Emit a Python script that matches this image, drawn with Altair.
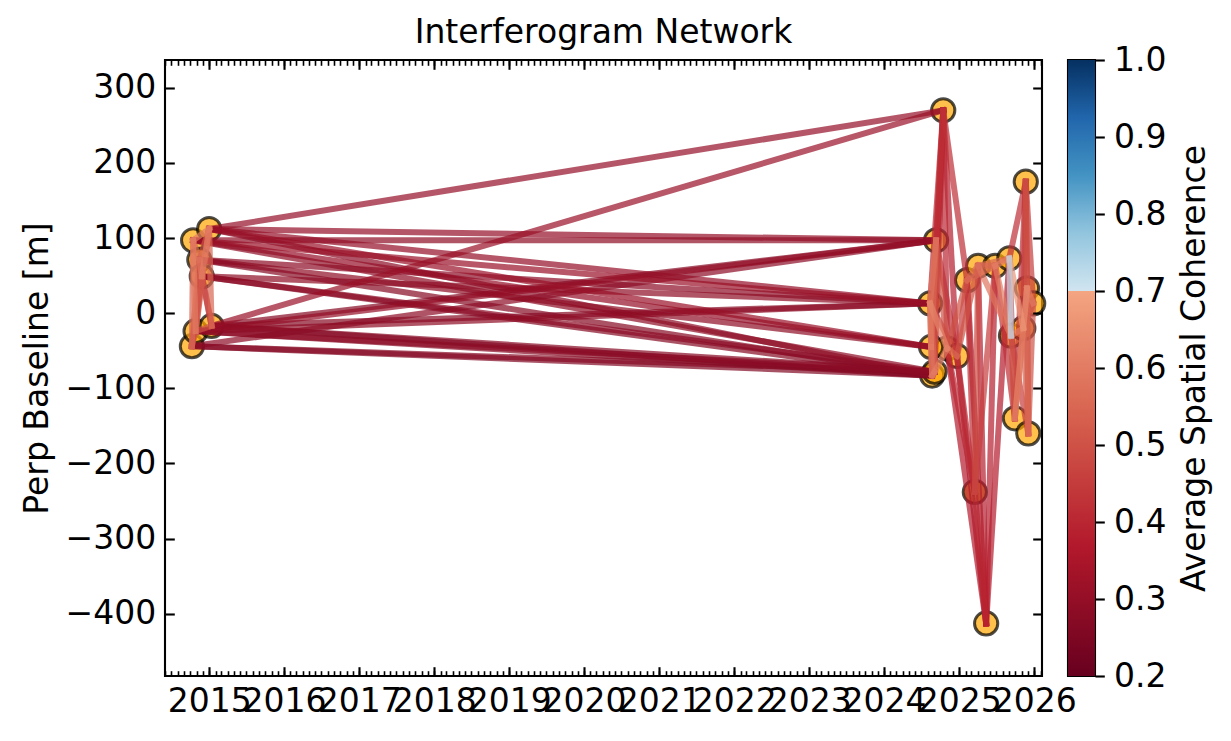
import altair as alt
import pandas as pd

# ---------------- data ----------------
acq_dates = [
    "2014-10-09", "2014-10-15", "2014-10-27", "2014-11-14", "2014-11-26",
    "2015-01-01", "2015-01-13",
    "2024-08-12", "2024-08-22", "2024-09-03", "2024-09-10", "2024-10-15",
    "2024-11-03", "2024-12-21", "2025-02-08", "2025-03-18", "2025-04-03",
    "2025-05-12", "2025-06-25", "2025-09-02", "2025-09-10", "2025-09-29",
    "2025-11-09", "2025-11-21", "2025-11-27", "2025-12-03", "2025-12-27",
    "2024-08-17",
]
acq_bperp = [
    -44, 97, -24, 71, 49,
    112, -17,
    13, -83, -78, 97, 270,
    -47, -57, 44, -238, 63,
    -413, 63, 73, -30, -140,
    -20, 175, 33, -160, 13,
    -45,
]

pair_ref = [
    # long pairs 2014/15 -> 2024
    5, 6, 5, 1, 6, 2, 0, 5, 3, 4, 6, 1, 2, 5, 1, 3, 5, 3, 4, 6, 2, 0, 1, 6, 0, 4, 2,
    # 2014/15 internal
    0, 0, 1, 2, 1, 0, 2, 3, 3, 4, 4, 5, 1, 2, 0, 2, 3,
    # 2024-2026 internal
    7, 7, 8, 7, 9, 8, 10, 7, 9, 8, 11, 11, 10, 12, 9, 7, 27, 27, 27, 27,
    12, 13, 13, 14, 14, 15, 15, 14, 16, 13, 17, 17, 16, 18, 18, 19, 20, 19,
    20, 21, 21, 22, 22, 23, 23, 24, 24, 25, 23, 22, 21, 19, 16, 15, 12, 13,
    16, 14, 11,
    12, 18, 20, 19, 22, 10, 7,
]
pair_sec = [
    11, 11, 10, 10, 10, 10, 10, 7, 7, 7, 7, 7, 7, 27, 27, 27, 8, 8, 8, 8, 8, 8, 9, 9, 9, 9, 9,
    1, 2, 2, 3, 3, 3, 4, 4, 5, 5, 6, 6, 5, 5, 4, 6, 6,
    8, 9, 9, 10, 10, 10, 11, 11, 11, 11, 12, 13, 12, 13, 12, 12, 7, 10, 11, 8,
    14, 14, 15, 15, 16, 16, 17, 17, 17, 17, 18, 19, 18, 19, 20, 20, 21, 21,
    22, 22, 23, 23, 24, 24, 25, 25, 26, 26, 26, 25, 24, 22, 19, 18, 15, 16,
    20, 18, 14,
    17, 21, 25, 23, 26, 13, 13,
]
pair_coh = [
    0.30, 0.31, 0.30, 0.29, 0.27, 0.30, 0.28, 0.30, 0.28, 0.29, 0.27, 0.31, 0.29,
    0.31, 0.30, 0.29, 0.28, 0.27, 0.27, 0.26, 0.27, 0.26, 0.29, 0.27, 0.27, 0.28, 0.28,
    0.55, 0.50, 0.60, 0.45, 0.55, 0.50, 0.48, 0.58, 0.50, 0.60, 0.45, 0.55, 0.60,
    0.52, 0.42, 0.50, 0.47,
    0.50, 0.55, 0.60, 0.58, 0.50, 0.45, 0.42, 0.40, 0.38, 0.37, 0.40, 0.38, 0.50,
    0.55, 0.60, 0.62, 0.60, 0.55, 0.40, 0.58,
    0.50, 0.45, 0.40, 0.42, 0.55, 0.48, 0.40, 0.36, 0.38, 0.35, 0.38, 0.37, 0.55,
    0.60, 0.60, 0.72, 0.50, 0.45,
    0.60, 0.55, 0.42, 0.45, 0.62, 0.50, 0.42, 0.55, 0.60, 0.50, 0.45, 0.55, 0.60,
    0.66, 0.55, 0.45, 0.40, 0.50,
    0.58, 0.55, 0.42,
    0.37, 0.42, 0.45, 0.42, 0.50, 0.42, 0.45,
]

# truncated RdBu colour map (0.2-0.7 red half, 0.7-1.0 blue half)
cmap_values = [0.2, 0.3667, 0.5333, 0.7, 0.7001, 0.775, 0.85, 0.925, 1.0]
cmap_colors = ["#67001f", "#b2182b", "#d6604d", "#f4a582",
               "#d1e5f0", "#92c5de", "#4393c3", "#2166ac", "#053061"]

y_ticks = [-400, -300, -200, -100, 0, 100, 200, 300]
cb_ticks = [0.2, 0.3, 0.4, 0.5, 0.6, 0.7, 0.8, 0.9, 1.0]

# ---------------- tables ----------------
pts_df = pd.DataFrame({"date": acq_dates, "bperp": acq_bperp})
pairs_df = pd.DataFrame({
    "date1": [acq_dates[i] for i in pair_ref],
    "date2": [acq_dates[j] for j in pair_sec],
    "b1": [acq_bperp[i] for i in pair_ref],
    "b2": [acq_bperp[j] for j in pair_sec],
    "coh": pair_coh,
}).sort_values("coh")

FONT = "DejaVu Sans"
FS = 33
MAJ, MIN = 9.3, 5.3

xs = alt.Scale(domain=[alt.DateTime(year=2014, month=5, date=31),
                       alt.DateTime(year=2026, month=2, date=8)], nice=False)
ys = alt.Scale(domain=[-483, 337], nice=False, zero=False)
cs = alt.Scale(domain=cmap_values, range=cmap_colors, interpolate="rgb")

year_step = {"interval": "year", "step": 1}
month_step = {"interval": "month", "step": 1}


def tick_axis(orient, size, width, count=None, values=None):
    kw = dict(orient=orient, ticks=True, tickSize=size, tickWidth=width,
              tickColor="black", labels=False, domain=False, offset=-size,
              title=None, grid=False, zindex=2)
    if count is not None:
        kw["tickCount"] = count
    if values is not None:
        kw["values"] = values
    return alt.Axis(**kw)


ax_x_labels = alt.Axis(orient="bottom", ticks=False, domain=False, format="%Y",
                       tickCount=year_step, labelFontSize=FS, labelPadding=MAJ,
                       labelOverlap=False, labelFlush=False, labelBound=False,
                       title=None, grid=False)
ax_y_labels = alt.Axis(orient="left", ticks=False, domain=False, values=y_ticks,
                       labelFontSize=FS, labelPadding=MAJ, title="Perp Baseline [m]",
                       titleFontSize=FS, titleFontWeight="normal", titlePadding=11,
                       grid=False)

points = alt.Chart(pts_df).mark_circle(
    size=540, fill="orange", fillOpacity=0.7, stroke="black",
    strokeOpacity=0.7, strokeWidth=3
).encode(
    x=alt.X("date:T", scale=xs, axis=ax_x_labels),
    y=alt.Y("bperp:Q", scale=ys, axis=ax_y_labels),
)

lines = alt.Chart(pairs_df).mark_rule(strokeWidth=6, opacity=0.7, strokeCap="square").encode(
    x=alt.X("date1:T", scale=xs, axis=tick_axis("bottom", MAJ, 2.1, count=year_step)),
    x2="date2:T",
    y=alt.Y("b1:Q", scale=ys, axis=tick_axis("left", MAJ, 2.1, values=y_ticks)),
    y2="b2:Q",
    color=alt.Color("coh:Q", scale=cs, legend=None),
    order=alt.Order("coh:Q"),
)

dummy1 = alt.Chart(pts_df).mark_point(opacity=0).encode(
    x=alt.X("date:T", scale=xs, axis=tick_axis("bottom", MIN, 1.6, count=month_step)),
    y=alt.Y("bperp:Q", scale=ys, axis=tick_axis("right", MAJ, 2.1, values=y_ticks)),
)
dummy2 = alt.Chart(pts_df).mark_point(opacity=0).encode(
    x=alt.X("date:T", scale=xs, axis=tick_axis("top", MAJ, 2.1, count=year_step)),
    y=alt.Y("bperp:Q", scale=ys, axis=None),
)
dummy3 = alt.Chart(pts_df).mark_point(opacity=0).encode(
    x=alt.X("date:T", scale=xs, axis=tick_axis("top", MIN, 1.6, count=month_step)),
    y=alt.Y("bperp:Q", scale=ys, axis=None),
)

main = alt.layer(points, lines, dummy1, dummy2, dummy3).resolve_axis(
    x="independent", y="independent"
).properties(
    width=877, height=616,
    title=alt.Title("Interferogram Network", fontSize=FS, font=FONT,
                    fontWeight="normal", frame="group", offset=9, color="black"),
)

# ---------------- colour bar ----------------
cb_df = pd.DataFrame({"lo": [cmap_values[0]], "hi": [cmap_values[-1]]})
grad = {
    "gradient": "linear", "x1": 0, "y1": 1, "x2": 0, "y2": 0,
    "stops": [{"offset": (v - 0.2) / 0.8, "color": c}
              for v, c in zip(cmap_values, cmap_colors)],
}
cbar = alt.Chart(cb_df).mark_rect(color=grad).encode(
    y=alt.Y("lo:Q", scale=alt.Scale(domain=[0.2, 1.0], nice=False, zero=False),
            axis=alt.Axis(orient="right", values=cb_ticks, format=".1f",
                          tickSize=MAJ, tickWidth=2.1, tickColor="black",
                          domain=False, labelPadding=MAJ, labelFontSize=FS,
                          title="Average Spatial Coherence", titleFontSize=FS,
                          titleFontWeight="normal", titleAngle=270,
                          titleBaseline="top", titlePadding=12, grid=False)),
    y2="hi:Q",
).properties(width=27, height=616)

chart = alt.hconcat(main, cbar, spacing=26, bounds="flush").properties(
    padding={"left": 12, "top": 7, "right": 5, "bottom": 5}
).configure_view(
    stroke="black", strokeWidth=2.1
).configure_axis(
    labelFont=FONT, titleFont=FONT, labelColor="black", titleColor="black", grid=False
).configure_title(
    font=FONT, fontSize=FS, fontWeight="normal", color="black"
)

chart.save("out.html", embed_options={"renderer": "svg", "actions": False})
